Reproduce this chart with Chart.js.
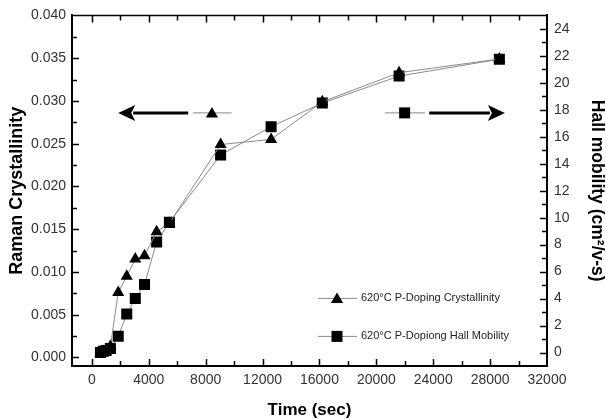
<!DOCTYPE html>
<html>
<head>
<meta charset="utf-8">
<script src="https://cdn.jsdelivr.net/npm/chart.js@4/dist/chart.umd.min.js"></script>
<style>
  html, body { margin: 0; padding: 0; background: #fff; }
  #wrap { width: 606px; height: 419px; }
</style>
</head>
<body>
<div id="wrap"><canvas id="chart" width="606" height="419"></canvas></div>
<script>
// Time (sec) of each measurement
const times = [600, 800, 1000, 1300, 1850, 2450, 3050, 3700, 4550, 5450, 9050, 12600, 16200, 21600, 28650];
// Raman crystallinity (left axis)
const crystallinity = [0.0005, 0.0007, 0.0009, 0.0013, 0.0076, 0.0095, 0.0115, 0.0119, 0.0147, 0.0157, 0.0249, 0.0255, 0.0299, 0.0333, 0.0349];
// Hall mobility cm2/v-s (right axis)
const hallMobility = [0.0, 0.1, 0.15, 0.3, 1.2, 2.85, 4.0, 5.05, 8.2, 9.65, 14.65, 16.75, 18.5, 20.5, 21.75];

const xTickLabels = [0, 4000, 8000, 12000, 16000, 20000, 24000, 28000, 32000];
const leftTickLabels = ['0.000', '0.005', '0.010', '0.015', '0.020', '0.025', '0.030', '0.035', '0.040'];
const rightTickLabels = [0, 2, 4, 6, 8, 10, 12, 14, 16, 18, 20, 22, 24];

const seriesNames = ['620\u00B0C P-Doping Crystallinity', '620\u00B0C P-Dopiong Hall Mobility'];

const LINE_GRAY = '#8a8a8a';
const TICK_COLOR = '#333';

// major tick values plus one minor tick between each pair
function withMinor(majors) {
  const out = [];
  majors.forEach((m, i) => {
    out.push(m);
    if (i < majors.length - 1) out.push((m + majors[i + 1]) / 2);
  });
  return out.map(v => ({ value: v }));
}

function drawTriangle(ctx, x, y, r) {
  ctx.beginPath();
  ctx.moveTo(x, y - r);
  ctx.lineTo(x + r * 0.866, y + r * 0.5);
  ctx.lineTo(x - r * 0.866, y + r * 0.5);
  ctx.closePath();
  ctx.fill();
}

function drawSquare(ctx, x, y, half) {
  ctx.fillRect(x - half, y - half, half * 2, half * 2);
}

// inward tick marks + top frame line
const frameTicks = {
  id: 'frameTicks',
  afterDraw(chart) {
    const { ctx, chartArea: a, scales } = chart;
    ctx.save();
    ctx.strokeStyle = '#000';
    ctx.lineWidth = 1.5;
    ctx.beginPath();
    ctx.moveTo(a.left, a.top);
    ctx.lineTo(a.right, a.top);
    ctx.stroke();

    scales.x.ticks.forEach(t => {
      const px = Math.round(scales.x.getPixelForValue(t.value)) + 0.5;
      if (px < a.left + 1 || px > a.right - 1) return;
      const len = xTickLabels.includes(t.value) ? 7 : 5;
      ctx.beginPath();
      ctx.moveTo(px, a.bottom); ctx.lineTo(px, a.bottom - len);
      ctx.moveTo(px, a.top); ctx.lineTo(px, a.top + len);
      ctx.stroke();
    });
    scales.y.ticks.forEach(t => {
      const py = Math.round(scales.y.getPixelForValue(t.value)) + 0.5;
      if (py < a.top + 1 || py > a.bottom - 1) return;
      const len = leftTickLabels.includes(t.value.toFixed(3)) ? 7 : 5;
      ctx.beginPath();
      ctx.moveTo(a.left, py); ctx.lineTo(a.left + len, py);
      ctx.stroke();
    });
    scales.y1.ticks.forEach(t => {
      const py = Math.round(scales.y1.getPixelForValue(t.value)) + 0.5;
      if (py < a.top + 1 || py > a.bottom - 1) return;
      const len = rightTickLabels.includes(t.value) ? 7 : 5;
      ctx.beginPath();
      ctx.moveTo(a.right, py); ctx.lineTo(a.right - len, py);
      ctx.stroke();
    });
    ctx.restore();
  }
};

// the two arrows pointing to each axis, and the legend box
const notes = {
  id: 'notes',
  afterDatasetsDraw(chart) {
    const { ctx, chartArea: a, scales } = chart;
    const x = v => scales.x.getPixelForValue(v);
    const y = scales.y.getPixelForValue(0.0286);
    ctx.save();

    function arrow(from, to) {
      const dir = Math.sign(to - from);
      const head = 17;
      ctx.strokeStyle = '#000';
      ctx.lineWidth = 3;
      ctx.beginPath();
      ctx.moveTo(from, y);
      ctx.lineTo(to - dir * (head - 2), y);
      ctx.stroke();
      ctx.fillStyle = '#000';
      ctx.beginPath();
      ctx.moveTo(to, y);
      ctx.lineTo(to - dir * head, y - 8);
      ctx.lineTo(to - dir * (head - 4), y);
      ctx.lineTo(to - dir * head, y + 8);
      ctx.closePath();
      ctx.fill();
    }
    function grayLine(x1, x2, yy) {
      ctx.strokeStyle = LINE_GRAY;
      ctx.lineWidth = 1;
      ctx.beginPath();
      ctx.moveTo(x1, yy);
      ctx.lineTo(x2, yy);
      ctx.stroke();
    }

    // left: arrow to crystallinity axis
    arrow(x(6770), x(1850));
    grayLine(x(7100), x(9825), y);
    ctx.fillStyle = '#000';
    drawTriangle(ctx, x(8440), y + 1, 7);

    // right: arrow to mobility axis
    grayLine(x(20600), x(23420), y);
    ctx.fillStyle = '#000';
    drawSquare(ctx, x(21990), y, 5.5);
    arrow(x(23720), x(29040));

    // legend
    const lx1 = a.left + 246, lx2 = a.left + 285, mx = a.left + 265, tx = a.left + 289;
    const rows = [a.top + 283, a.top + 321];
    ctx.font = '11px "Liberation Sans", Arial, sans-serif';
    ctx.textBaseline = 'middle';
    ctx.textAlign = 'left';
    rows.forEach((ry, i) => {
      grayLine(lx1, lx2, ry);
      ctx.fillStyle = '#000';
      if (i === 0) drawTriangle(ctx, mx, ry + 1, 7);
      else drawSquare(ctx, mx, ry, 5.5);
      ctx.fillStyle = '#222';
      ctx.fillText(seriesNames[i], tx, ry);
    });
    ctx.restore();
  }
};

const tickFont = { family: '"Liberation Sans", Arial, sans-serif', size: 14 };
const titleFont = { family: '"Liberation Sans", Arial, sans-serif', size: 17, weight: 'bold', lineHeight: 1 };

new Chart(document.getElementById('chart'), {
  type: 'line',
  data: {
    datasets: [
      {
        label: seriesNames[0],
        data: times.map((t, i) => ({ x: t, y: crystallinity[i] })),
        yAxisID: 'y',
        borderColor: LINE_GRAY,
        borderWidth: 1,
        pointStyle: 'triangle',
        pointRadius: 7,
        pointBackgroundColor: '#000',
        pointBorderColor: '#000',
        pointBorderWidth: 0,
        tension: 0
      },
      {
        label: seriesNames[1],
        data: times.map((t, i) => ({ x: t, y: hallMobility[i] })),
        yAxisID: 'y1',
        borderColor: LINE_GRAY,
        borderWidth: 1,
        pointStyle: 'rect',
        pointRadius: 7.8,
        pointBackgroundColor: '#000',
        pointBorderColor: '#000',
        pointBorderWidth: 0,
        tension: 0
      }
    ]
  },
  options: {
    responsive: false,
    animation: false,
    devicePixelRatio: 1,
    layout: { padding: { top: 14, left: 0, right: 0, bottom: 0 } },
    plugins: {
      legend: { display: false },
      tooltip: { enabled: false }
    },
    scales: {
      x: {
        type: 'linear',
        min: -1400,
        max: 32000,
        grid: { display: false, drawTicks: false },
        border: { display: true, color: '#000', width: 2 },
        afterBuildTicks(s) { s.ticks = withMinor(xTickLabels); },
        ticks: {
          autoSkip: false,
          maxRotation: 0,
          padding: 6,
          color: TICK_COLOR,
          font: tickFont,
          callback: v => xTickLabels.includes(v) ? String(v) : ''
        },
        title: { display: true, text: 'Time (sec)', color: '#000', font: titleFont, padding: { top: 0, bottom: 0 } },
        afterFit(s) { s.height = 53; }
      },
      y: {
        position: 'left',
        min: -0.001,
        max: 0.040,
        grid: { display: false, drawTicks: false },
        border: { display: true, color: '#000', width: 2 },
        afterBuildTicks(s) { s.ticks = withMinor(leftTickLabels.map(Number)); },
        ticks: {
          autoSkip: false,
          padding: 6,
          color: TICK_COLOR,
          font: tickFont,
          callback: v => {
            const s = v.toFixed(3);
            return leftTickLabels.includes(s) ? s : '';
          }
        },
        title: { display: true, text: 'Raman Crystallinity', color: '#000', font: { ...titleFont, size: 18 }, padding: { top: 8, bottom: 0 } },
        afterFit(s) { s.width = 72; }
      },
      y1: {
        position: 'right',
        min: -1,
        max: 25,
        grid: { display: false, drawTicks: false },
        border: { display: true, color: '#000', width: 2 },
        afterBuildTicks(s) { s.ticks = withMinor(rightTickLabels); },
        ticks: {
          autoSkip: false,
          padding: 7,
          color: TICK_COLOR,
          font: tickFont,
          callback: v => rightTickLabels.includes(v) ? String(v) : ''
        },
        title: { display: true, text: 'Hall mobility (cm\u00B2/v-s)', color: '#000', font: { ...titleFont, size: 17.5 }, padding: { top: 0, bottom: 0 } },
        afterFit(s) { s.width = 59; }
      }
    }
  },
  plugins: [frameTicks, notes]
});
</script>
</body>
</html>
